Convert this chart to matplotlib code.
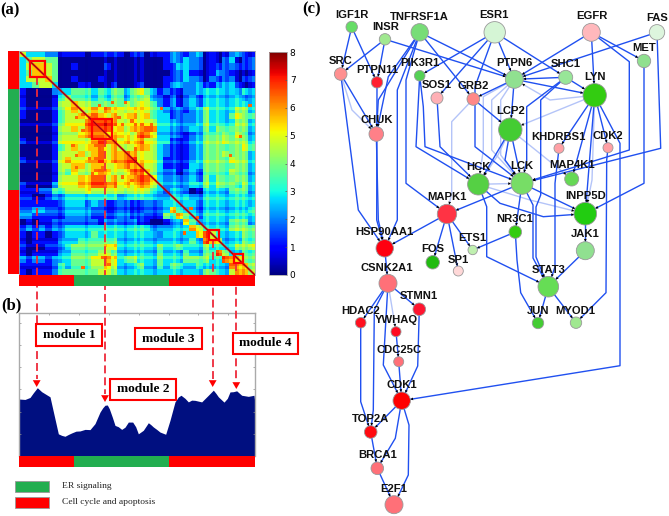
import numpy as np
import matplotlib
matplotlib.use("Agg")
import matplotlib.pyplot as plt
from matplotlib.patches import Rectangle, Circle

W, H = 669, 516
RED = "#FF0000"
GREEN = "#22AE50"
DASH = "#EE2A3A"
EDGE = "#2050F0"
LIGHT = "#B4C4F8"

# heatmap read cell by cell, digit = colour band, heat_levels = value of that band
heat_levels = [0.15, 1.1, 2.0, 2.75, 3.8, 4.7, 5.6, 6.5, 7.8]
heat_rows = [
    "533322" + "1111011111011011" + "12212301012211",
    "345544" + "0000000000000000" + "12232201023012",
    "356654" + "0010000100000000" + "11332201122112",
    "346654" + "0000000000000000" + "01231101221001",
    "355564" + "0010001000000000" + "11232202122012",
    "334553" + "0001100010001000" + "12322311233101",
    "100002" + "3344434344345431" + "21122333333233",
    "100001" + "4544434344344532" + "12123233333323",
    "100001" + "5565544444545542" + "12123233333333",
    "100001" + "4565565655555543" + "21212343333443",
    "100001" + "4556676565665643" + "31222343334544",
    "000001" + "4555777765555553" + "32222343333443",
    "000001" + "5565777756566773" + "32223343444443",
    "000001" + "5556777666657763" + "32212344454543",
    "100001" + "5555567665656553" + "31112344454443",
    "000001" + "4565667565556653" + "21112344444454",
    "000001" + "5556567566765553" + "21112344454443",
    "100001" + "5655667566775553" + "11112344445443",
    "000001" + "5566566556766553" + "11113344444443",
    "000001" + "5465567655677653" + "22123244445443",
    "000001" + "5556677565667763" + "22223243444443",
    "100002" + "5556677665656653" + "22223343444343",
    "111224" + "4555655555555543" + "23320133334443",
    "110012" + "2333333332333332" + "23332233333333",
    "111111" + "2333232112211222" + "33333233333333",
    "223322" + "2333322112211222" + "36433233333334",
    "221111" + "1222211112211111" + "43643233333333",
    "010112" + "2222221222221100" + "12364333334443",
    "121212" + "2333333333333322" + "22336533334444",
    "101101" + "2333343333333332" + "33333675333344",
    "101111" + "3334444443333333" + "33334376533344",
    "100011" + "2344444553333334" + "33433343333445",
    "101111" + "3344445543333334" + "33343344753344",
    "212212" + "3344455653443334" + "33344443376544",
    "111112" + "4344455653334334" + "34433433337665",
    "101112" + "4444445543333333" + "33333344335665",
]
# bright and dark lines that cross the blocks, on the finer 72 cell grid
bright_rows = [18, 23, 29, 35, 42, 47, 52, 57, 62, 66]
bright_cols = [26, 29, 35, 37, 47, 57, 60, 66, 68]
dark_rows = [14, 26, 39, 45, 50, 55, 60, 64, 69]
dark_cols = [12, 20, 32, 41, 49, 55, 63, 70]
# orange specks seen in the big block
hot_cols = [32, 28, 24, 17, 19, 21, 22, 30, 31, 34, 35, 37, 19, 16, 17, 23, 25, 23, 21, 17, 25, 23, 22,
            31, 34, 29, 40, 43, 70, 67, 64, 26, 19, 25, 27, 50, 52, 54, 35]
hot_rows = [16, 16, 17, 21, 20, 21, 21, 21, 23, 22, 23, 23, 25, 30, 33, 30, 31, 34, 34, 37, 37, 38, 39,
            40, 41, 43, 23, 18, 17, 27, 33, 43, 69, 66, 68, 58, 50, 53, 31]

heat = np.array([[heat_levels[int(c)] for c in r] for r in heat_rows])
heat = np.kron(heat, np.ones((2, 2)))
heat[bright_rows, :] += 0.5
heat[:, bright_cols] += 0.5
heat[dark_rows, :] -= 0.45
heat[:, dark_cols] -= 0.45
heat[hot_rows, hot_cols] = 6.4
heat = np.clip(heat, 0.1, 8)
cbar_ticks = [0, 1, 2, 3, 4, 5, 6, 7, 8]

# area profile under the heatmap
profile_pos = [57, 75, 90, 100, 112, 125, 138, 150, 160, 175, 185, 195, 205, 215, 228, 240, 255, 270, 285,
               300, 308, 315, 322, 328, 337, 345, 355, 365, 375, 385, 398, 407, 415, 430, 445, 452, 460, 470,
               480, 497, 510, 525, 535, 543, 555, 565, 575, 585, 605, 625, 640, 648, 655, 672, 682, 690, 700,
               710, 725, 745, 762, 765]
profile_val = [2.57, 2.55, 2.64, 2.85, 3.08, 2.90, 2.78, 2.67, 2.0, 1.0, 0.93, 0.89, 0.97, 1.04, 1.12, 1.13,
               1.2, 1.19, 1.46, 1.98, 2.17, 2.29, 2.3, 2.13, 1.75, 1.38, 1.32, 1.2, 1.3, 1.53, 1.53, 1.32,
               1.0, 1.16, 1.5, 1.42, 1.31, 1.2, 1.08, 0.98, 1.61, 2.44, 2.66, 2.74, 2.6, 2.44, 2.52, 2.51,
               2.44, 2.74, 2.97, 2.82, 2.67, 2.43, 2.6, 2.89, 2.9, 2.94, 2.74, 2.69, 2.74, 2.36]
profile_ticks_x = [147, 237, 327, 417, 506, 595, 684]
profile_ticks_y = [1, 2, 3, 4, 5, 6]

module_names = ["module 1", "module 2", "module 3", "module 4"]
legend_names = ["ER signaling", "Cell cycle and apoptosis"]

# name, x, y, radius, colour, label x, label y
nodes = [
    ("IGF1R", 351.7, 27, 5.7, "#66DD66", 351.7, 15),
    ("TNFRSF1A", 419.7, 32.3, 8.7, "#77DD77", 419.7, 17.3),
    ("ESR1", 494.7, 32.3, 10.7, "#D5F5D5", 494, 15.3),
    ("EGFR", 591.3, 32.3, 9, "#FFB8BC", 591.7, 16.3),
    ("FAS", 657, 32.3, 7.7, "#DDF5DD", 657, 17.7),
    ("INSR", 385, 39.3, 5.7, "#A0E890", 385.3, 27.3),
    ("MET", 644, 61, 6.7, "#90E090", 644, 48.3),
    ("SRC", 340.7, 74, 6.3, "#FF9090", 340.7, 61.3),
    ("PTPN11", 377, 82.3, 5.7, "#FF2030", 377, 69.7),
    ("PIK3R1", 419.7, 75.7, 5.3, "#55D055", 419.7, 63.3),
    ("PTPN6", 514.3, 79.3, 9, "#90E090", 514.3, 63.3),
    ("SHC1", 565.7, 77.3, 7, "#98E698", 565.3, 64),
    ("LYN", 594.7, 95.3, 11.7, "#33CC11", 594.7, 77),
    ("SOS1", 437, 98, 6, "#FFB0B5", 437, 85),
    ("GRB2", 473.3, 99, 6.3, "#FF8888", 473.3, 86),
    ("CHUK", 376.3, 134, 7.3, "#FF8088", 376.3, 120.3),
    ("LCP2", 510.3, 129.7, 11.7, "#44CC33", 510.3, 111.3),
    ("KHDRBS1", 559, 148.3, 5, "#FFA0A5", 559, 136.7),
    ("CDK2", 608, 147.7, 5, "#FFA0A5", 608, 136.3),
    ("HCK", 478.3, 184.3, 10.7, "#55D044", 478.3, 167.3),
    ("LCK", 522, 183.3, 11, "#77DD66", 522.3, 165.7),
    ("MAP4K1", 571.7, 179, 7, "#66D855", 571.7, 165),
    ("MAPK1", 447, 214, 9.7, "#FF3344", 446.7, 197.3),
    ("INPP5D", 585.3, 213.7, 11.3, "#22CC11", 585.3, 195.7),
    ("NR3C1", 515.3, 232, 6.3, "#33CC11", 514.7, 218.7),
    ("JAK1", 585.3, 250.7, 9, "#90E090", 585.3, 234.3),
    ("ETS1", 472.7, 250, 4.7, "#C0F0B0", 472.7, 238.3),
    ("HSP90AA1", 384.7, 248.3, 8.7, "#FF0010", 384.7, 232.3),
    ("FOS", 432.7, 262.3, 6.7, "#22BB11", 432.7, 249),
    ("SP1", 458.3, 271, 5, "#FFD8D8", 458, 259.7),
    ("CSNK2A1", 388, 283.3, 9, "#FF7078", 387.3, 268),
    ("STAT3", 548.3, 286.7, 10.3, "#66DD55", 548.3, 269.7),
    ("STMN1", 419.3, 309.3, 6.3, "#FF1530", 419, 296.3),
    ("HDAC2", 360.7, 322.7, 5.3, "#FF1020", 361, 311),
    ("YWHAQ", 396, 331.7, 5, "#FF0A20", 396, 319.7),
    ("JUN", 538, 323, 5.7, "#44CC33", 538, 311),
    ("MYOD1", 576, 322.7, 5.7, "#A0E890", 575.7, 310.7),
    ("CDC25C", 398.7, 361.7, 5, "#FF7078", 398.7, 349.7),
    ("CDK1", 401.7, 400.7, 8.7, "#FF0000", 401.7, 385),
    ("TOP2A", 370.7, 432, 6.3, "#FF0A10", 370.7, 418.7),
    ("BRCA1", 377.3, 468.3, 6.3, "#FF7078", 377.3, 455.3),
    ("E2F1", 394, 504.7, 9, "#FF7078", 394, 489),
]

# source, target, bends, light line
edges = [
    ("IGF1R", "SRC", [], False),
    ("IGF1R", "PTPN11", [], False),
    ("INSR", "SRC", [], False),
    ("INSR", "PTPN11", [], False),
    ("INSR", "PTPN6", [], False),
    ("TNFRSF1A", "CHUK", [(388.3, 76.7)], False),
    ("TNFRSF1A", "CHUK", [(378.3, 100)], False),
    ("TNFRSF1A", "HSP90AA1", [(397.3, 90), (397.3, 220)], False),
    ("TNFRSF1A", "MAPK1", [(406, 80), (406, 183.3)], False),
    ("TNFRSF1A", "PTPN6", [], False),
    ("TNFRSF1A", "GRB2", [], False),
    ("ESR1", "PIK3R1", [], False),
    ("ESR1", "SOS1", [], False),
    ("ESR1", "PTPN6", [], False),
    ("ESR1", "SHC1", [], False),
    ("ESR1", "LCK", [(475, 86.7), (475, 146.7)], False),
    ("EGFR", "PTPN6", [], False),
    ("EGFR", "LYN", [], False),
    ("EGFR", "MET", [], False),
    ("EGFR", "LCK", [(629.3, 61.7), (629.3, 150)], False),
    ("FAS", "PTPN6", [], False),
    ("FAS", "LCK", [(660.7, 148.3)], False),
    ("MET", "INPP5D", [(644, 183.3)], False),
    ("SRC", "CHUK", [], False),
    ("SRC", "CHUK", [(352, 110)], True),
    ("SRC", "HSP90AA1", [(358.3, 210)], False),
    ("PTPN11", "HSP90AA1", [(376.7, 220)], False),
    ("CHUK", "HSP90AA1", [(378.3, 220)], False),
    ("PIK3R1", "HCK", [(416, 146.7)], False),
    ("PIK3R1", "LCK", [(423.3, 106.7), (425, 146.7)], False),
    ("SOS1", "HCK", [(440, 146.7)], False),
    ("GRB2", "MAPK1", [(451.7, 121.7), (451.7, 193.3)], True),
    ("GRB2", "LCP2", [], False),
    ("PTPN6", "GRB2", [], False),
    ("PTPN6", "HCK", [(483.3, 96.7), (483.3, 150)], True),
    ("PTPN6", "LCK", [(491.7, 100), (491.7, 150)], True),
    ("PTPN6", "LCK", [(500.7, 100), (500.7, 155)], True),
    ("PTPN6", "LYN", [], False),
    ("PTPN6", "LCP2", [], False),
    ("SHC1", "LYN", [], False),
    ("SHC1", "PTPN6", [], False),
    ("SHC1", "LCK", [(526.7, 106.7), (526.7, 160)], False),
    ("SHC1", "STAT3", [(540.7, 100), (540.7, 195), (536, 207), (536, 257)], False),
    ("LYN", "PTPN6", [(550, 100)], True),
    ("LYN", "LCP2", [], True),
    ("LYN", "KHDRBS1", [], False),
    ("LYN", "CDK2", [], False),
    ("LYN", "MAP4K1", [], False),
    ("LYN", "INPP5D", [], False),
    ("LYN", "INPP5D", [(592, 180)], True),
    ("LYN", "CDK1", [(620, 143.3), (620, 365.7)], False),
    ("LCP2", "HCK", [], False),
    ("LCP2", "HCK", [(498, 155)], True),
    ("LCP2", "LCK", [], False),
    ("LCP2", "LCK", [(505, 160)], False),
    ("LCP2", "MAP4K1", [], True),
    ("LCK", "MAPK1", [], False),
    ("LCK", "NR3C1", [], False),
    ("LCK", "INPP5D", [], False),
    ("LCK", "STAT3", [(533, 205), (533, 258)], False),
    ("HCK", "LCK", [], True),
    ("HCK", "INPP5D", [(500, 203.3), (543.3, 216.7)], False),
    ("HCK", "INPP5D", [(530, 200)], True),
    ("HCK", "STAT3", [(486.7, 206.7), (486.7, 256.7)], False),
    ("KHDRBS1", "STAT3", [(555, 183.3), (555, 266.7)], False),
    ("JAK1", "STAT3", [], False),
    ("INPP5D", "JAK1", [], False),
    ("CDK2", "MYOD1", [(606.7, 160), (606, 292.7)], False),
    ("NR3C1", "ETS1", [], False),
    ("NR3C1", "JUN", [(517, 260), (520.7, 292.7)], False),
    ("STAT3", "JUN", [], False),
    ("STAT3", "MYOD1", [], False),
    ("MAPK1", "FOS", [], False),
    ("MAPK1", "SP1", [], False),
    ("MAPK1", "ETS1", [], False),
    ("MAPK1", "HSP90AA1", [], False),
    ("HSP90AA1", "CSNK2A1", [], False),
    ("CSNK2A1", "STMN1", [], False),
    ("CSNK2A1", "HDAC2", [], False),
    ("CSNK2A1", "YWHAQ", [], True),
    ("CSNK2A1", "TOP2A", [(374.3, 310), (373.3, 410)], False),
    ("CSNK2A1", "CDK1", [(383.3, 365)], False),
    ("HDAC2", "TOP2A", [(360.7, 401.7)], False),
    ("STMN1", "CDK1", [(417.7, 366)], False),
    ("YWHAQ", "CDC25C", [], False),
    ("CDC25C", "CDK1", [], False),
    ("CDK1", "TOP2A", [], False),
    ("CDK1", "BRCA1", [(395.3, 438.3)], False),
    ("CDK1", "E2F1", [(409, 425), (408.3, 475)], False),
    ("TOP2A", "BRCA1", [], False),
    ("BRCA1", "E2F1", [], False),
]


def px_axes(x0, y0, x1, y1):
    return fig.add_axes([x0 / W, 1 - y1 / H, (x1 - x0) / W, (y1 - y0) / H])


fig = plt.figure(figsize=(W / 100, H / 100), dpi=100, facecolor="white")

# (a) heatmap
ax_h = px_axes(19, 51, 255, 275)
im = ax_h.imshow(heat, cmap="jet", vmin=0, vmax=8, aspect="auto", interpolation="nearest")
ax_h.plot([-0.5, 71.5], [-0.5, 71.5], color="#F01010", lw=1.6, alpha=0.8)
ax_h.plot([-0.5, 71.5], [-0.5, 71.5], color="#900010", lw=0.7)
ax_h.set_xticks([])
ax_h.set_yticks([])
for s in ax_h.spines.values():
    s.set_color("#AAAAAA")
    s.set_linewidth(0.6)

cax = px_axes(269, 52, 287, 275)
cb = fig.colorbar(im, cax=cax, ticks=cbar_ticks)
cb.ax.tick_params(labelsize=6.5, length=1.5, width=0.5, direction="in", pad=2, color="#555555")
cb.outline.set_edgecolor("#AAAAAA")
cb.outline.set_linewidth(0.6)

# (b) profile
ax_p = px_axes(19, 313, 255, 456)
ax_p.fill_between(profile_pos, profile_val, 0, color="#000F80", lw=0)
ax_p.set_xlim(57, 765)
ax_p.set_ylim(0, 6.45)
ax_p.set_xticks(profile_ticks_x)
ax_p.set_yticks(profile_ticks_y)
ax_p.tick_params(direction="in", length=1.5, width=0.5, color="#888888", top=True, right=True,
                 bottom=False, labelbottom=False, labelleft=False)
ax_p.spines["bottom"].set_visible(False)
for k in ["top", "left", "right"]:
    ax_p.spines[k].set_color("#AAAAAA")
    ax_p.spines[k].set_linewidth(1)

# everything else sits on a page-sized layer in pixels
ax = fig.add_axes([0, 0, 1, 1], facecolor="none")
ax.set_xlim(0, W)
ax.set_ylim(H, 0)
ax.axis("off")

for txt, x, y in [("(a)", 10, 10), ("(b)", 11, 305), ("(c)", 312, 9)]:
    ax.text(x, y, txt, family="Liberation Serif", weight="bold", fontsize=12, ha="center", va="center")

# module dashes
for x, y0, y1, tip in [(36.7, 77, 379, 387), (105, 139, 394, 402), (212.7, 240, 379, 387), (236.3, 263, 381, 389)]:
    ax.plot([x, x], [y0, y1], color=DASH, lw=1.3, dashes=(4.4, 2.2), zorder=2)
    ax.annotate("", xy=(x, tip), xytext=(x, tip - 9), zorder=3,
                arrowprops=dict(arrowstyle="-|>,head_length=0.7,head_width=0.4", color=RED, lw=0,
                                mutation_scale=7, shrinkA=0, shrinkB=0))

for x0, y0, x1, y1 in [(29.5, 61, 45, 76.5), (92, 119, 112, 139), (209, 230, 218.5, 240), (233.5, 253.5, 243, 263)]:
    ax.add_patch(Rectangle((x0, y0), x1 - x0, y1 - y0, fill=False, ec=RED, lw=1.6, zorder=4))

# group bars
for x0, x1, c in [(19, 74.3, RED), (74.3, 169.3, GREEN), (169.3, 255, RED)]:
    ax.add_patch(Rectangle((x0, 275), x1 - x0, 11, color=c, lw=0, zorder=3))
    ax.add_patch(Rectangle((x0, 456), x1 - x0, 11, color=c, lw=0, zorder=3))
for y0, y1, c in [(51, 89.3, RED), (89.3, 190, GREEN), (190, 274, RED)]:
    ax.add_patch(Rectangle((8, y0), 11, y1 - y0, color=c, lw=0, zorder=3))

for name, (x0, y0, x1, y1) in zip(module_names, [(35.7, 324.3, 102, 346), (110, 378.7, 176, 400.3),
                                                  (135, 327.7, 202, 349.3), (232.7, 332.7, 298, 354.3)]):
    ax.add_patch(Rectangle((x0, y0), x1 - x0, y1 - y0, fc="white", ec=RED, lw=1.5, zorder=5))
    ax.text((x0 + x1) / 2, (y0 + y1) / 2, name, family="Liberation Serif", weight="bold", fontsize=9.6,
            ha="center", va="center", zorder=6)

# legend
for name, y0, c in zip(legend_names, [480.7, 497.3], [GREEN, RED]):
    ax.add_patch(Rectangle((15, y0), 33.7, 11, fc=c, ec="#999999", lw=0.6))
    ax.text(62, y0 + 5, name, family="Liberation Serif", fontsize=6.8, va="center", color="#222222")

# (c) network
pos = {n[0]: (n[1], n[2]) for n in nodes}
rad = {n[0]: n[3] for n in nodes}
for light in [True, False]:
    for src, dst, bends, is_light in edges:
        if is_light != light:
            continue
        pts = [pos[src]] + bends + [pos[dst]]
        xs, ys = zip(*pts)
        ax.plot(xs, ys, color=LIGHT if light else EDGE, lw=1.0, zorder=7, solid_joinstyle="round")
        p = np.array(pts[-2], dtype=float)
        q = np.array(pts[-1], dtype=float)
        d = (q - p) / np.hypot(*(q - p))
        end = q - d * rad[dst]
        ax.annotate("", xy=end, xytext=end - d * 5, zorder=8,
                    arrowprops=dict(arrowstyle="-|>", color="black", lw=0, mutation_scale=5, shrinkA=0, shrinkB=0))

for name, x, y, r, c, lx, ly in nodes:
    ax.add_patch(Circle((x, y), r, fc=c, ec="#999999", lw=0.6, zorder=9))
    ax.text(lx, ly, name, family="Liberation Sans", weight="bold", fontsize=8.1, ha="center", va="center",
            color="#111111", zorder=10)

fig.savefig("out.png", dpi=100)
